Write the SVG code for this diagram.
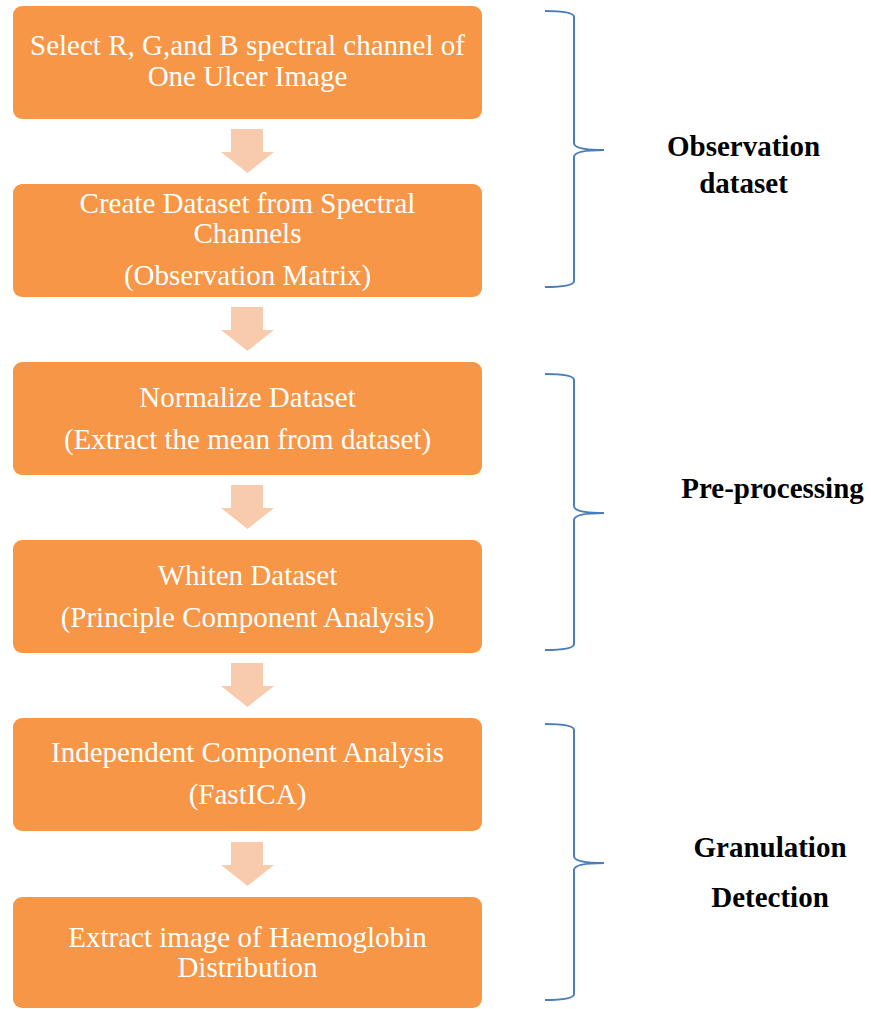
<svg xmlns="http://www.w3.org/2000/svg" width="871" height="1009" viewBox="0 0 871 1009">
  <style>
    .box { fill: #F79646; }
    .txt { font-family: "Liberation Serif", serif; font-size: 29px; fill: #FFFFFF; text-anchor: middle; }
    .lbl { font-family: "Liberation Serif", serif; font-size: 29px; font-weight: bold; fill: #000000; text-anchor: middle; }
    .arrow { fill: #F8CBAD; }
    .brace { fill: none; stroke: #4A7EBB; stroke-width: 2; }
  </style>

  <g id="connectors">
    <path class="arrow" d="M 231 129 H 263 V 152 H 274 L 247.5 173 L 221 152 H 231 Z"/>
    <path class="arrow" d="M 231 307 H 263 V 330 H 274 L 247.5 351 L 221 330 H 231 Z"/>
    <path class="arrow" d="M 231 485 H 263 V 508 H 274 L 247.5 529 L 221 508 H 231 Z"/>
    <path class="arrow" d="M 231 663 H 263 V 686 H 274 L 247.5 707 L 221 686 H 231 Z"/>
    <path class="arrow" d="M 231 842 H 263 V 865 H 274 L 247.5 886 L 221 865 H 231 Z"/>
  </g>

  <g id="step1">
    <rect class="box" x="13" y="6" width="469" height="113" rx="9"/>
    <text class="txt" x="247.5" y="55" font-family="Liberation Serif, serif">Select R, G,and B spectral channel of</text>
    <text class="txt" x="247.5" y="86" font-family="Liberation Serif, serif">One Ulcer Image</text>
  </g>
  <g id="step2">
    <rect class="box" x="13" y="184" width="469" height="113" rx="9"/>
    <text class="txt" x="247.5" y="213" font-family="Liberation Serif, serif">Create Dataset from Spectral</text>
    <text class="txt" x="247.5" y="243" font-family="Liberation Serif, serif">Channels</text>
    <text class="txt" x="247.5" y="285" font-family="Liberation Serif, serif">(Observation Matrix)</text>
  </g>
  <g id="step3">
    <rect class="box" x="13" y="362" width="469" height="113" rx="9"/>
    <text class="txt" x="247.5" y="407" font-family="Liberation Serif, serif">Normalize Dataset</text>
    <text class="txt" x="247.5" y="449" font-family="Liberation Serif, serif">(Extract the mean from dataset)</text>
  </g>
  <g id="step4">
    <rect class="box" x="13" y="540" width="469" height="113" rx="9"/>
    <text class="txt" x="247.5" y="585" font-family="Liberation Serif, serif">Whiten Dataset</text>
    <text class="txt" x="247.5" y="627" font-family="Liberation Serif, serif">(Principle Component Analysis)</text>
  </g>
  <g id="step5">
    <rect class="box" x="13" y="718" width="469" height="113" rx="9"/>
    <text class="txt" x="247.5" y="762" font-family="Liberation Serif, serif">Independent Component Analysis</text>
    <text class="txt" x="247.5" y="804" font-family="Liberation Serif, serif">(FastICA)</text>
  </g>
  <g id="step6">
    <rect class="box" x="13" y="897" width="469" height="111" rx="9"/>
    <text class="txt" x="247.5" y="947" font-family="Liberation Serif, serif">Extract image of Haemoglobin</text>
    <text class="txt" x="247.5" y="977" font-family="Liberation Serif, serif">Distribution</text>
  </g>

  <g id="phase-observation">
    <path class="brace" d="M 545 11 Q 574 11 574 17 V 143 Q 574 150 604 150 Q 574 150 574 157 V 281 Q 574 287 545 287"/>
    <text class="lbl" x="743.5" y="156" font-family="Liberation Serif, serif">Observation</text>
    <text class="lbl" x="743.5" y="193" font-family="Liberation Serif, serif">dataset</text>
  </g>
  <g id="phase-preprocessing">
    <path class="brace" d="M 545 374 Q 574 374 574 380 V 506 Q 574 513 604 513 Q 574 513 574 520 V 644 Q 574 650 545 650"/>
    <text class="lbl" x="772.5" y="498" font-family="Liberation Serif, serif">Pre-processing</text>
  </g>
  <g id="phase-granulation">
    <path class="brace" d="M 545 724 Q 574 724 574 730 V 856 Q 574 863 604 863 Q 574 863 574 870 V 994 Q 574 1000 545 1000"/>
    <text class="lbl" x="770" y="857" font-family="Liberation Serif, serif">Granulation</text>
    <text class="lbl" x="770" y="907" font-family="Liberation Serif, serif">Detection</text>
  </g>
</svg>
